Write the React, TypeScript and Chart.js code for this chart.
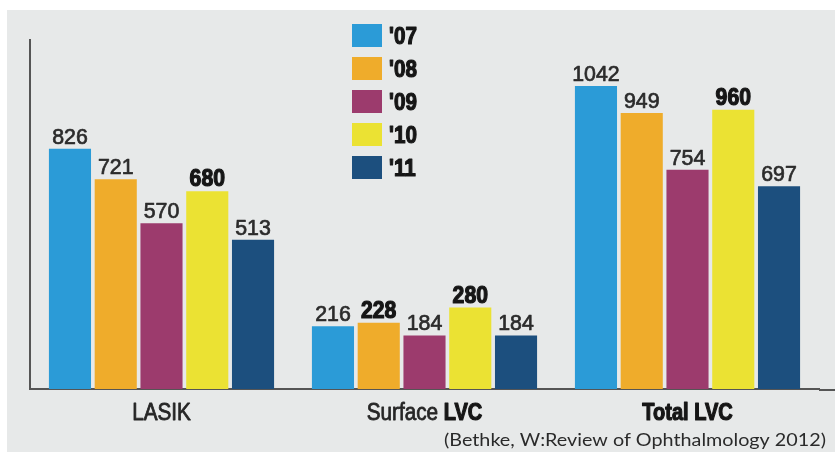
import React, { useEffect, useRef } from "react";
import { Chart, registerables } from "chart.js";

Chart.register(...registerables);

// Laser vision correction procedures (thousands) by year
const categories = ["LASIK", "Surface LVC", "Total LVC"];
const years = ["'07", "'08", "'09", "'10", "'11"];
const values07 = [826, 216, 1042];
const values08 = [721, 228, 949];
const values09 = [570, 184, 754];
const values10 = [680, 280, 960];
const values11 = [513, 184, 697];
const seriesValues = [values07, values08, values09, values10, values11];
const yMax = 1200;
const sourceNote = "(Bethke, W:Review of Ophthalmology 2012)";

const yearColors = ["#2b9bd7", "#efac2b", "#9c3b6d", "#ebe233", "#1c4f7e"];
// value labels printed in heavy type, as "series:category"
const heavyLabels = new Set(["1:1", "3:0", "3:1", "3:2"]);
// words of the category names printed in heavy type
const heavyWords = new Set(["Total", "LVC"]);

const SANS = '"Liberation Sans", Arial, sans-serif';

function drawScaledText(
  ctx: CanvasRenderingContext2D,
  text: string,
  x: number,
  y: number,
  font: string,
  color: string,
  sx: number,
  align: "left" | "center" | "right",
  weight = 0
) {
  ctx.save();
  ctx.font = font;
  ctx.fillStyle = color;
  ctx.strokeStyle = color;
  ctx.textBaseline = "alphabetic";
  const w = ctx.measureText(text).width * sx;
  let left = x;
  if (align === "center") left = x - w / 2;
  if (align === "right") left = x - w;
  ctx.translate(left, y);
  ctx.scale(sx, 1);
  ctx.textAlign = "left";
  ctx.fillText(text, 0, 0);
  if (weight > 0) {
    ctx.lineWidth = weight;
    ctx.lineJoin = "round";
    ctx.strokeText(text, 0, 0);
  }
  ctx.restore();
  return w;
}

const backdrop = {
  id: "backdrop",
  beforeDraw(chart: any) {
    const { ctx, width, height } = chart;
    ctx.save();
    ctx.fillStyle = "#ffffff";
    ctx.fillRect(0, 0, width, height);
    ctx.fillStyle = "#e7e9e9";
    ctx.fillRect(7, 10, width - 7, height - 10);
    ctx.restore();
  },
};

const annotations = {
  id: "annotations",
  afterDatasetsDraw(chart: any) {
    const { ctx, chartArea, width } = chart;
    const xScale = chart.scales.x;

    // baseline runs on to the right edge
    ctx.save();
    ctx.strokeStyle = "#555555";
    ctx.lineWidth = 2;
    ctx.beginPath();
    ctx.moveTo(chartArea.right, chartArea.bottom + 1);
    ctx.lineTo(width, chartArea.bottom + 1);
    ctx.stroke();
    ctx.restore();

    // value labels above bars
    chart.data.datasets.forEach((ds: any, di: number) => {
      const meta = chart.getDatasetMeta(di);
      meta.data.forEach((el: any, i: number) => {
        const heavy = heavyLabels.has(`${di}:${i}`);
        drawScaledText(
          ctx,
          String(ds.data[i]),
          el.x,
          el.y - 5,
          heavy ? `bold 23px ${SANS}` : `22px ${SANS}`,
          heavy ? "#161616" : "#2b2b2b",
          heavy ? 0.92 : 0.97,
          "center",
          heavy ? 1.2 : 0.7
        );
      });
    });

    // category names under the baseline
    const nameFont = (heavy: boolean) => (heavy ? `bold 23px ${SANS}` : `23px ${SANS}`);
    const nameScale = (heavy: boolean) => (heavy ? 0.87 : 0.9);
    categories.forEach((name, i) => {
      const cx = xScale.getPixelForValue(i);
      const words = name.split(" ");
      const parts = words.map((w, k) => ({
        text: k < words.length - 1 ? w + " " : w,
        heavy: heavyWords.has(w),
      }));
      ctx.save();
      const widths = parts.map((p) => {
        ctx.font = nameFont(p.heavy);
        return ctx.measureText(p.text).width * nameScale(p.heavy);
      });
      ctx.restore();
      const total = widths.reduce((a, b) => a + b, 0);
      let x = cx - total / 2;
      parts.forEach((p, k) => {
        drawScaledText(
          ctx,
          p.text,
          x,
          chartArea.bottom + 31,
          nameFont(p.heavy),
          p.heavy ? "#161616" : "#262626",
          nameScale(p.heavy),
          "left",
          p.heavy ? 1.2 : 0.8
        );
        x += widths[k];
      });
    });

    // year key
    chart.data.datasets.forEach((ds: any, di: number) => {
      const top = 24 + di * 33;
      ctx.save();
      ctx.fillStyle = ds.backgroundColor;
      ctx.fillRect(352, top, 30, 23);
      ctx.restore();
      drawScaledText(ctx, ds.label, 389, top + 20, `bold 24px ${SANS}`, "#161616", 0.86, "left", 1.2);
    });

    // source note
    ctx.save();
    ctx.font = '17px Lato, "Open Sans", sans-serif';
    const natural = ctx.measureText(sourceNote).width;
    ctx.restore();
    drawScaledText(
      ctx,
      sourceNote,
      826,
      446,
      '17px Lato, "Open Sans", sans-serif',
      "#2a2a2a",
      382 / natural,
      "right"
    );
  },
};

export default function App() {
  const canvasRef = useRef<HTMLCanvasElement | null>(null);

  useEffect(() => {
    document.body.style.margin = "0";
    const canvas = canvasRef.current;
    if (!canvas) return;
    const chart = new Chart(canvas, {
      type: "bar",
      data: {
        labels: categories,
        datasets: years.map((y, i) => ({
          label: y,
          data: seriesValues[i],
          backgroundColor: yearColors[i],
          borderWidth: 0,
          categoryPercentage: 0.87,
          barPercentage: 0.92,
        })),
      },
      options: {
        responsive: false,
        animation: false,
        events: [],
        layout: { padding: { left: 30, top: 40, right: 16, bottom: 63 } },
        plugins: {
          legend: { display: false },
          tooltip: { enabled: false },
          title: { display: false },
        },
        scales: {
          x: {
            grid: { display: false, drawTicks: false },
            ticks: { display: false },
            border: { display: true, color: "#555555", width: 2 },
          },
          y: {
            min: 0,
            max: yMax,
            grid: { display: false, drawTicks: false },
            ticks: { display: false },
            border: { display: true, color: "#555555", width: 2 },
          },
        },
      },
      plugins: [backdrop, annotations],
    });
    return () => chart.destroy();
  }, []);

  return (
    <canvas
      ref={canvasRef}
      width={835}
      height={452}
      style={{ display: "block", width: 835, height: 452 }}
    />
  );
}
